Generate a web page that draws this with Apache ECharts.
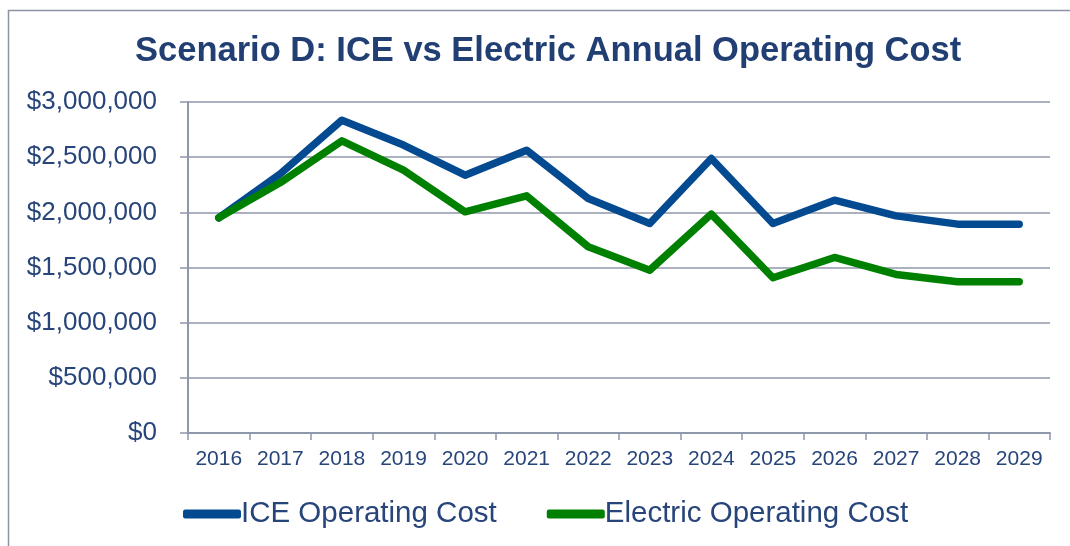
<!DOCTYPE html>
<html>
<head>
<meta charset="utf-8">
<script src="https://cdn.jsdelivr.net/npm/echarts@6/dist/echarts.min.js"></script>
<style>
html,body{margin:0;padding:0;background:#fff;}
#c{width:1070px;height:546px;}
</style>
</head>
<body>
<div id="c"></div>
<script>
const years = ['2016','2017','2018','2019','2020','2021','2022','2023','2024','2025','2026','2027','2028','2029'];
const iceCost = [1950000, 2350000, 2835000, 2610000, 2337000, 2563000, 2126000, 1899000, 2488000, 1899000, 2110000, 1968000, 1893000, 1893000];
const electricCost = [1950000, 2270000, 2648000, 2382000, 2005000, 2150000, 1688000, 1476000, 1984000, 1407000, 1591000, 1437000, 1371000, 1371000];
const seriesNames = ['ICE Operating Cost', 'Electric Operating Cost'];
const titleText = 'Scenario D: ICE vs Electric Annual Operating Cost';

const textColor = '#27457a';
const gridColor = '#8f97aa';

const chart = echarts.init(document.getElementById('c'), null, {renderer: 'canvas'});
chart.setOption({
  animation: false,
  backgroundColor: '#ffffff',
  graphic: [{
    type: 'rect',
    left: 6, top: 8,
    shape: {width: 1100, height: 600},
    style: {fill: 'none', stroke: '#8c93a5', lineWidth: 1.5},
    silent: true
  }],
  title: {
    text: titleText,
    left: 130,
    top: 29,
    textStyle: {
      fontFamily: 'Liberation Sans, Arial, sans-serif',
      fontWeight: 'bold',
      fontSize: 34.5,
      color: '#213f73'
    }
  },
  legend: {
    data: seriesNames,
    left: 178,
    top: 494,
    icon: 'roundRect',
    itemWidth: 58,
    itemHeight: 9,
    itemGap: 50,
    textStyle: {
      fontFamily: 'Liberation Sans, Arial, sans-serif',
      fontSize: 29.5,
      color: textColor,
      padding: [0, 0, 0, -5]
    }
  },
  grid: {left: 188, right: 20, top: 102, bottom: 113, containLabel: false},
  xAxis: {
    type: 'category',
    data: years,
    boundaryGap: true,
    axisLine: {lineStyle: {color: gridColor, width: 2}},
    axisTick: {show: true, length: 7, lineStyle: {color: gridColor, width: 1.5}},
    axisLabel: {
      margin: 16,
      fontFamily: 'Liberation Sans, Arial, sans-serif',
      fontSize: 21,
      color: textColor
    }
  },
  yAxis: {
    type: 'value',
    min: 0,
    max: 3000000,
    interval: 500000,
    axisLine: {show: true, lineStyle: {color: gridColor, width: 2}},
    axisTick: {show: true, length: 8, lineStyle: {color: gridColor, width: 1.5}},
    splitLine: {show: true, lineStyle: {color: gridColor, width: 1.5}},
    axisLabel: {
      margin: 31,
      fontFamily: 'Liberation Sans, Arial, sans-serif',
      fontSize: 26,
      color: textColor,
      formatter: v => '$' + v.toLocaleString('en-US')
    }
  },
  series: [
    {
      name: seriesNames[0],
      type: 'line',
      data: iceCost,
      symbol: 'none',
      color: '#044a91',
      lineStyle: {width: 7.5, color: '#044a91', cap: 'round', join: 'round'}
    },
    {
      name: seriesNames[1],
      type: 'line',
      data: electricCost,
      symbol: 'none',
      color: '#008000',
      lineStyle: {width: 7.5, color: '#008000', cap: 'round', join: 'round'}
    }
  ]
});
</script>
</body>
</html>
